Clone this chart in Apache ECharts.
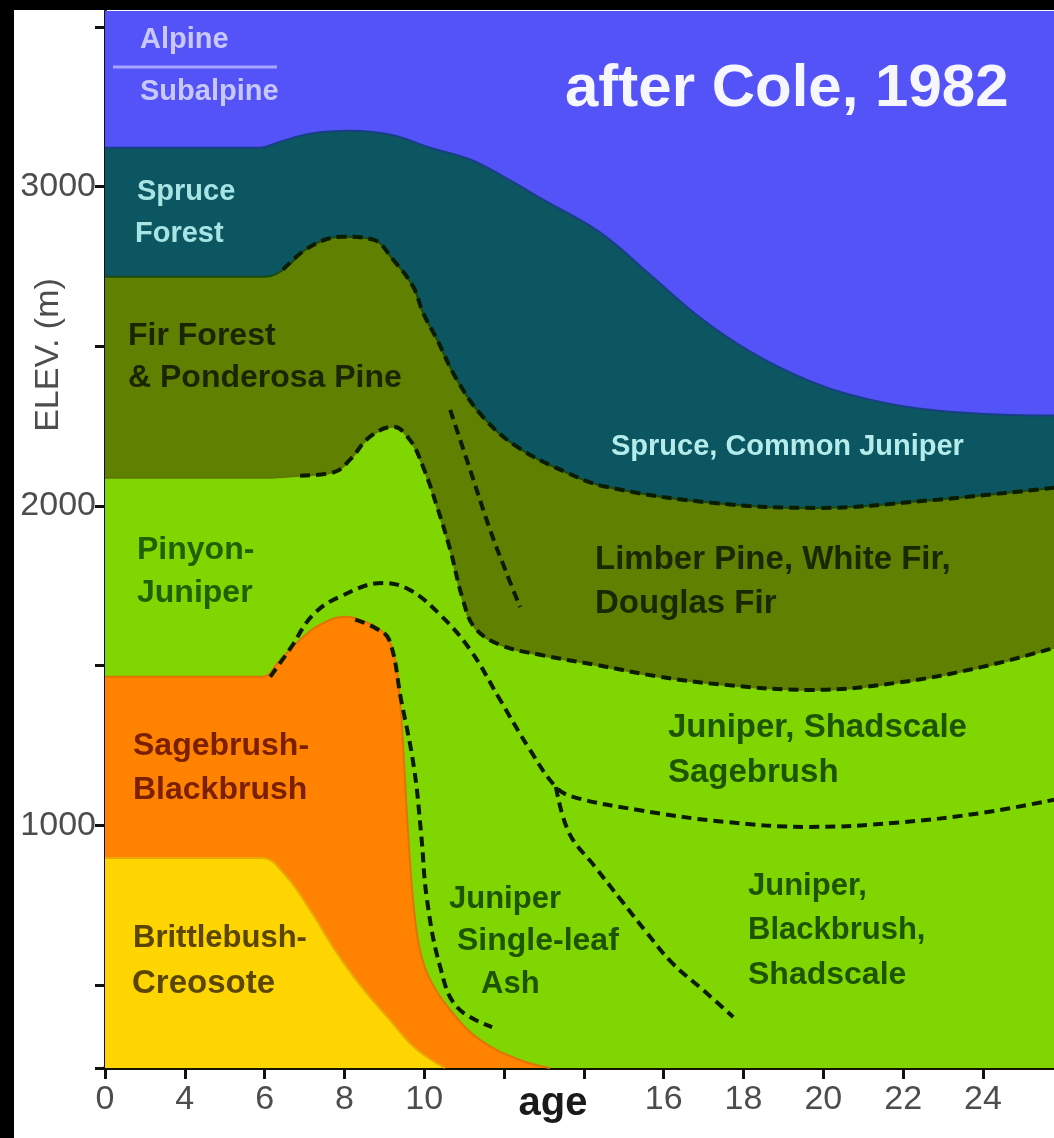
<!DOCTYPE html>
<html lang="en">
<head>
	<meta charset="UTF-8">
	<title>Vegetation zones, after Cole 1982</title>
	<style type="text/css">
		html, body { margin: 0; padding: 0; background: #fff; }
	</style>
</head>
<body>
     <div id="main" style="width:1054px;height:1138px;"></div>
</body>
</html>
<script type="text/javascript" src="https://cdn.jsdelivr.net/npm/echarts@6/dist/echarts.min.js"></script>
<script type="text/javascript">
    // x = age (ka, first tick labelled 0), y = elevation (m); each array is the upper edge of a zone
    var alpineTop = [[2, 3550], [25.78, 3550]];
    var spruceTop = [[2, 3122], [5.88, 3122], [6.39, 3141], [7.14, 3166], [8.14, 3175], [9.14, 3163], [10.15, 3122], [11.15, 3085], [12.03, 3028], [12.98, 2959], [14.41, 2856], [15.66, 2724], [16.91, 2590], [18.17, 2483], [19.59, 2395], [21.17, 2333], [23.18, 2295], [25.78, 2283]];
    var firTop = [[2, 2718], [6.01, 2718], [6.46, 2740], [7.14, 2812], [7.96, 2843], [8.72, 2834], [9.22, 2771], [9.72, 2687], [9.97, 2605], [10.32, 2521], [10.82, 2395], [11.47, 2279], [12.33, 2185], [13.58, 2104], [14.56, 2060], [17.21, 2010], [19.87, 1994], [22.53, 2016], [25.78, 2057]];
    var pinyonTop = [[2, 2088], [6.01, 2088], [6.89, 2095], [7.76, 2107], [8.14, 2145], [8.64, 2217], [9.22, 2248], [9.64, 2207], [9.97, 2123], [10.32, 1998], [10.65, 1863], [10.97, 1706], [11.27, 1618], [11.90, 1565], [12.90, 1534], [14.28, 1503], [15.91, 1465], [17.51, 1440], [19.67, 1424], [21.82, 1446], [23.98, 1496], [25.78, 1556]];
    var sageTop = [[2, 1465], [5.93, 1465], [6.39, 1518], [6.89, 1581], [7.39, 1628], [8.02, 1653], [8.52, 1637], [9.02, 1597], [9.27, 1518], [9.39, 1393], [9.49, 1205], [9.59, 986], [9.72, 766], [9.89, 610], [10.15, 516], [10.65, 422], [11.40, 328], [12.40, 265], [13.15, 240]];
    var brittleTop = [[2, 898], [5.93, 898], [6.51, 845], [7.14, 735], [7.76, 610], [8.39, 500], [9.14, 390], [9.77, 303], [10.52, 240]];
    // dashed boundaries inside the zones
    var firInnerLine = [[10.65, 2301], [11.15, 2113], [11.65, 1925], [12.03, 1800], [12.40, 1684]];
    var shadscaleLine = [[6.14, 1465], [6.64, 1553], [7.21, 1659], [7.89, 1716], [8.97, 1759], [9.64, 1737], [10.40, 1659], [11.15, 1550], [11.90, 1393], [12.65, 1236], [13.30, 1120], [13.73, 1089], [15.36, 1048], [17.51, 1011], [19.67, 995], [21.82, 1008], [23.98, 1039], [25.78, 1080]];
    var blackbrushLine = [[13.30, 1120], [13.63, 976], [14.28, 870], [14.93, 766], [15.58, 663], [16.21, 569], [16.99, 484], [17.74, 400]];
    var sageEdgeLine = [[8.27, 1644], [8.77, 1618], [9.12, 1581], [9.42, 1393], [9.74, 1183], [9.92, 976], [10.07, 766], [10.40, 556], [10.82, 431], [11.70, 368]];
    // ticks and labels
    var xTickValues = [2, 4, 6, 8, 10, 12, 14, 16, 18, 20, 22, 24];
    var xTickLabels = ['0', '4', '6', '8', '10', '12', '14', '16', '18', '20', '22', '24'];
    var xLabelValues = [2, 4, 6, 8, 10, 16, 18, 20, 22, 24];
    var yTickValues = [240, 500, 1000, 1500, 2000, 2500, 3000, 3500];
    var yLabelValues = [1000, 2000, 3000];

    vegetationChart();
    function vegetationChart() {
        var myChart = echarts.init(document.getElementById('main'));

        function zone(name, data, fill, edge) {
            return {
                name: name, type: 'line', data: data,
                smooth: 0.4,
                showSymbol: false, silent: true,
                lineStyle: { color: edge, width: edge ? 2 : 0 },
                areaStyle: { color: fill, opacity: 1, origin: 'start' }
            };
        }
        function dashed(name, data) {
            return {
                name: name, type: 'line', data: data, z: 4,
                smooth: 0.4,
                showSymbol: false, silent: true,
                lineStyle: { color: '#0c1c00', width: 4, type: [10, 6] }
            };
        }
        function label(text, x, y, color, size) {
            return {
                type: 'text', x: x, y: y, z: 100, silent: true,
                style: {
                    text: text, fill: color, fontSize: size, fontWeight: 'bold',
                    fontFamily: 'Liberation Sans', verticalAlign: 'middle', align: 'left'
                }
            };
        }

        var option = {
            animation: false,
            backgroundColor: '#fff',
            grid: { left: 105, right: 0, top: 11, bottom: 70 },
            xAxis: {
                type: 'value', min: 2, max: 25.78,
                splitLine: { show: false },
                axisLine: { lineStyle: { color: '#141400', width: 4 } },
                axisTick: { customValues: xTickValues, length: 11, lineStyle: { color: '#111', width: 3 } },
                axisLabel: {
                    customValues: xLabelValues, margin: 15,
                    fontFamily: 'Liberation Sans', fontSize: 34, color: '#4d4d4d',
                    formatter: function (v) {
                        var i = xTickValues.indexOf(v);
                        return i >= 0 ? xTickLabels[i] : '';
                    }
                }
            },
            yAxis: {
                type: 'value', min: 240, max: 3550,
                splitLine: { show: false },
                axisLine: { lineStyle: { color: '#111', width: 3 } },
                axisTick: { customValues: yTickValues, length: 10, lineStyle: { color: '#111', width: 3 } },
                axisLabel: {
                    customValues: yLabelValues, margin: 9,
                    fontFamily: 'Liberation Sans', fontSize: 34, color: '#4d4d4d',
                    formatter: function (v) { return String(v); }
                }
            },
            series: [
                zone('Alpine / Subalpine', alpineTop, '#5353f8', null),
                zone('Spruce Forest', spruceTop, '#0b5660', '#183f86'),
                zone('Fir Forest & Ponderosa Pine', firTop, '#5f8000', '#1d4a12'),
                zone('Pinyon-Juniper', pinyonTop, '#80d600', '#5d7a00'),
                zone('Sagebrush-Blackbrush', sageTop, '#ff8200', '#e07400'),
                zone('Brittlebush-Creosote', brittleTop, '#ffd500', '#e8a800'),
                dashed('fir edge', firTop.slice(2)),
                dashed('pinyon edge', pinyonTop.slice(2)),
                dashed('fir inner', firInnerLine),
                dashed('shadscale', shadscaleLine),
                dashed('blackbrush', blackbrushLine),
                dashed('sage edge', sageEdgeLine)
            ],
            graphic: [
                { type: 'rect', z: 100, silent: true, shape: { x: 0, y: 0, width: 14, height: 1138 }, style: { fill: '#000' } },
                { type: 'rect', z: 100, silent: true, shape: { x: 0, y: 0, width: 1054, height: 10 }, style: { fill: '#000' } },
                { type: 'line', z: 100, silent: true, shape: { x1: 113, y1: 67, x2: 277, y2: 67 }, style: { stroke: '#a6a6ff', lineWidth: 3 } },
                {
                    type: 'text', x: 49, y: 355, rotation: Math.PI / 2, z: 100, silent: true,
                    style: { text: 'ELEV. (m)', fill: '#4d4d4d', fontSize: 34, fontFamily: 'Liberation Sans', align: 'center', verticalAlign: 'middle' }
                },
                {
                    type: 'text', x: 553, y: 1104, z: 100, silent: true,
                    style: { text: 'age', fill: '#1a1a1a', fontSize: 40, fontWeight: 'bold', fontFamily: 'Liberation Sans', align: 'center', verticalAlign: 'middle' }
                },
                label('after Cole, 1982', 565, 89, '#f6f6ff', 60),
                label('Alpine', 140, 40, '#c8c8ff', 29),
                label('Subalpine', 140, 92, '#c8c8ff', 29),
                label('Spruce', 137, 192, '#a8e4e4', 29),
                label('Forest', 135, 234, '#a8e4e4', 29),
                label('Spruce, Common Juniper', 611, 447, '#b4ecec', 29),
                label('Fir Forest', 128, 336, '#1a2600', 32),
                label('& Ponderosa Pine', 128, 378, '#1a2600', 32),
                label('Limber Pine, White Fir,', 595, 560, '#1a2800', 33),
                label('Douglas Fir', 595, 604, '#1a2800', 33),
                label('Pinyon-', 137, 550, '#1f6100', 32),
                label('Juniper', 137, 593, '#1f6100', 32),
                label('Juniper, Shadscale', 668, 728, '#1e5400', 33),
                label('Sagebrush', 668, 773, '#1e5400', 33),
                label('Sagebrush-', 133, 746, '#7a2000', 32),
                label('Blackbrush', 133, 790, '#7a2000', 32),
                label('Juniper', 449, 899, '#1e5400', 31),
                label('Single-leaf', 457, 941, '#1e5400', 32),
                label('Ash', 481, 984, '#1e5400', 31),
                label('Juniper,', 748, 886, '#1e5400', 31),
                label('Blackbrush,', 748, 930, '#1e5400', 31),
                label('Shadscale', 748, 975, '#1e5400', 32),
                label('Brittlebush-', 133, 938, '#5a4600', 31),
                label('Creosote', 132, 984, '#5a4600', 33)
            ]
        };
        myChart.setOption(option);
    }
</script>
